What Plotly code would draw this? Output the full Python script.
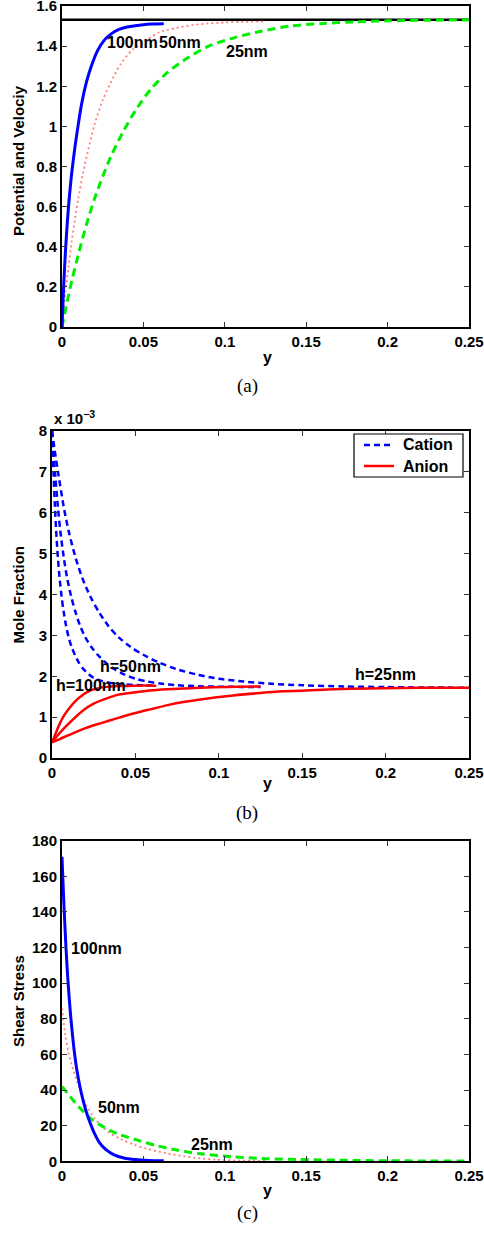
import plotly.graph_objects as go

W, H = 484, 1234

# ---------------- Panel (a): Potential and Velocity ----------------
a_x_100 = [0, 0.001, 0.002, 0.003, 0.004, 0.005, 0.006, 0.008, 0.010, 0.012, 0.015,
           0.018, 0.022, 0.026, 0.030, 0.035, 0.040, 0.045, 0.050, 0.055, 0.0625]
a_v_100 = [0, 0.20, 0.36, 0.49, 0.60, 0.69, 0.77, 0.90, 1.01, 1.11, 1.22,
           1.30, 1.38, 1.43, 1.46, 1.483, 1.495, 1.502, 1.507, 1.510, 1.512]
a_x_50 = [0, 0.002, 0.004, 0.006, 0.008, 0.010, 0.013, 0.016, 0.020, 0.025, 0.030,
          0.036, 0.043, 0.050, 0.060, 0.070, 0.080, 0.090, 0.100, 0.110, 0.125]
a_v_50 = [0, 0.17, 0.30, 0.43, 0.54, 0.64, 0.77, 0.88, 1.01, 1.13, 1.22,
          1.31, 1.38, 1.42, 1.47, 1.49, 1.505, 1.513, 1.518, 1.521, 1.523]
a_x_25 = [0, 0.003, 0.006, 0.010, 0.015, 0.020, 0.025, 0.030, 0.038, 0.046, 0.055,
          0.065, 0.075, 0.090, 0.105, 0.120, 0.140, 0.160, 0.180, 0.200, 0.225, 0.250]
a_v_25 = [0, 0.12, 0.23, 0.36, 0.51, 0.64, 0.75, 0.85, 0.98, 1.09, 1.19,
          1.27, 1.33, 1.40, 1.44, 1.47, 1.50, 1.513, 1.521, 1.526, 1.529, 1.531]
a_ref_x = [0, 0.25]
a_ref_v = [1.532, 1.532]
a_labels = ["100nm", "50nm", "25nm"]
a_label_x = [0.0436, 0.0725, 0.1136]
a_label_y = [1.416, 1.416, 1.371]
a_yticks = [0, 0.2, 0.4, 0.6, 0.8, 1, 1.2, 1.4, 1.6]
a_yticktext = ["0", "0.2", "0.4", "0.6", "0.8", "1", "1.2", "1.4", "1.6"]

# ---------------- Panel (b): Mole fraction (x 10^-3) ----------------
b_cat_x_100 = [0, 0.0005, 0.001, 0.00175, 0.0025, 0.0035, 0.0045, 0.00575, 0.007, 0.0085,
               0.010, 0.01175, 0.01375, 0.016, 0.01875, 0.02175, 0.025, 0.02875, 0.0325,
               0.0375, 0.04375, 0.050, 0.05625, 0.0625]
b_cat_v_100 = [8.00, 7.42, 6.90, 6.15, 5.55, 4.92, 4.42, 3.95, 3.58, 3.22,
               2.95, 2.72, 2.52, 2.34, 2.18, 2.06, 1.96, 1.90, 1.86,
               1.82, 1.80, 1.785, 1.775, 1.77]
b_cat_x_50 = [0, 0.001, 0.002, 0.0035, 0.005, 0.007, 0.009, 0.0115, 0.014, 0.017,
              0.020, 0.0235, 0.0275, 0.032, 0.0375, 0.0435, 0.050, 0.0575, 0.065,
              0.075, 0.0875, 0.100, 0.1125, 0.125]
b_cat_v_50 = [8.00, 7.42, 6.90, 6.15, 5.55, 4.92, 4.42, 3.95, 3.58, 3.22,
              2.95, 2.72, 2.52, 2.34, 2.17, 2.04, 1.94, 1.87, 1.82,
              1.78, 1.755, 1.745, 1.74, 1.74]
b_cat_x_25 = [0, 0.002, 0.004, 0.007, 0.010, 0.014, 0.018, 0.023, 0.028, 0.034,
              0.040, 0.047, 0.055, 0.064, 0.075, 0.087, 0.100, 0.115, 0.130,
              0.150, 0.175, 0.200, 0.225, 0.250]
b_cat_v_25 = [8.00, 7.42, 6.90, 6.15, 5.55, 4.92, 4.42, 3.95, 3.58, 3.22,
              2.95, 2.72, 2.52, 2.34, 2.17, 2.04, 1.94, 1.87, 1.82,
              1.78, 1.75, 1.735, 1.725, 1.72]
b_an_x_100 = [0, 0.002, 0.004, 0.0068, 0.010, 0.0148, 0.019, 0.0228, 0.028, 0.0328,
              0.040, 0.050, 0.0625]
b_an_v_100 = [0.38, 0.58, 0.78, 1.01, 1.20, 1.42, 1.56, 1.65, 1.71, 1.74,
              1.76, 1.77, 1.77]
b_an_x_50 = [0, 0.004, 0.008, 0.0188, 0.025, 0.0328, 0.040, 0.0488, 0.0588, 0.0688,
             0.0887, 0.105, 0.125]
b_an_v_50 = [0.38, 0.58, 0.76, 1.17, 1.33, 1.46, 1.55, 1.60, 1.65, 1.68,
             1.72, 1.74, 1.75]
b_an_x_25 = [0, 0.005, 0.010, 0.020, 0.030, 0.0388, 0.050, 0.0588, 0.070, 0.0787,
             0.090, 0.1087, 0.125, 0.1387, 0.155, 0.1687, 0.190, 0.2086, 0.230, 0.250]
b_an_v_25 = [0.38, 0.47, 0.56, 0.73, 0.86, 0.97, 1.10, 1.19, 1.30, 1.37,
             1.44, 1.53, 1.59, 1.63, 1.66, 1.68, 1.70, 1.71, 1.72, 1.72]
b_labels = ["h=100nm", "h=50nm", "h=25nm"]
b_label_x = [0.0234, 0.0468, 0.2002]
b_label_y = [1.77, 2.23, 2.05]
b_yticks = [0, 1, 2, 3, 4, 5, 6, 7, 8]
b_legend_names = ["Cation", "Anion"]

# ---------------- Panel (c): Shear stress ----------------
c_x_100 = [0, 0.001, 0.002, 0.003, 0.004, 0.005, 0.006, 0.0075, 0.009, 0.011, 0.013,
           0.015, 0.0175, 0.020, 0.023, 0.027, 0.032, 0.038, 0.045, 0.053, 0.0625]
c_v_100 = [171, 148, 128, 111, 97, 85, 75, 62, 52, 42, 34,
           27.5, 21, 15.5, 10.5, 6.5, 3.6, 1.9, 1.0, 0.5, 0.3]
c_x_50 = [0, 0.002, 0.004, 0.006, 0.009, 0.012, 0.0152, 0.020, 0.0254, 0.030, 0.036,
          0.0438, 0.052, 0.0643, 0.075, 0.085, 0.095, 0.110, 0.125]
c_v_50 = [86, 71, 61, 54, 45.5, 38, 31, 24, 19, 15.5, 12.5,
          9.5, 7, 4.5, 2.8, 1.6, 0.9, 0.4, 0.2]
c_x_25 = [0, 0.004, 0.008, 0.013, 0.019, 0.0254, 0.0295, 0.036, 0.0479, 0.058,
          0.0705, 0.085, 0.105, 0.125, 0.146, 0.170, 0.200, 0.225, 0.250]
c_v_25 = [42, 37.5, 33, 28, 23, 19.4, 17.3, 14.8, 11.5, 8.8,
          6.3, 4.2, 2.5, 1.5, 1.0, 0.6, 0.3, 0.2, 0.1]
c_labels = ["100nm", "50nm", "25nm"]
c_label_x = [0.0211, 0.035, 0.092]
c_label_y = [119.6, 30.2, 9.6]
c_yticks = [0, 20, 40, 60, 80, 100, 120, 140, 160, 180]

x_ticks = [0, 0.05, 0.1, 0.15, 0.2, 0.25]
x_ticktext = ["0", "0.05", "0.1", "0.15", "0.2", "0.25"]

BLUE, RED, GREEN = "#0000ff", "#ff0000", "#00ee00"
PINK = "rgba(255,70,70,0.7)"
SANS = "Liberation Sans"
CAT_DASH = "6px,4px"

fig = go.Figure()

def line(xs, ys, xa, ya, **kw):
    fig.add_trace(go.Scatter(x=xs, y=ys, mode="lines", xaxis=xa, yaxis=ya, showlegend=False, **kw))

# panel a
line(a_ref_x, a_ref_v, "x", "y", line=dict(color="black", width=2.5))
line(a_x_50, a_v_50, "x", "y", line=dict(color=PINK, width=1.8, dash="2px,3px", shape="spline", smoothing=0.8))
line(a_x_25, a_v_25, "x", "y", line=dict(color=GREEN, width=3, dash="8px,5px", shape="spline", smoothing=0.8))
line(a_x_100, a_v_100, "x", "y", line=dict(color=BLUE, width=3, shape="spline", smoothing=0.8))

# panel b
for xs, vs in [(b_cat_x_100, b_cat_v_100), (b_cat_x_50, b_cat_v_50), (b_cat_x_25, b_cat_v_25)]:
    line(xs, vs, "x2", "y2", name=b_legend_names[0],
         line=dict(color=BLUE, width=2.5, dash=CAT_DASH, shape="spline", smoothing=0.8))
for xs, vs in [(b_an_x_100, b_an_v_100), (b_an_x_50, b_an_v_50), (b_an_x_25, b_an_v_25)]:
    line(xs, vs, "x2", "y2", name=b_legend_names[1],
         line=dict(color=RED, width=2.5, shape="spline", smoothing=0.8))

# panel c
line(c_x_50, c_v_50, "x3", "y3", line=dict(color=PINK, width=1.8, dash="2px,3px", shape="spline", smoothing=0.8))
line(c_x_25, c_v_25, "x3", "y3", line=dict(color=GREEN, width=3, dash="8px,5px", shape="spline", smoothing=0.8))
line(c_x_100, c_v_100, "x3", "y3", line=dict(color=BLUE, width=3, shape="spline", smoothing=0.8))

tickfont = dict(family=SANS, size=15, color="black", weight="bold")
common = dict(showline=True, linecolor="black", linewidth=2, mirror="ticks", ticks="inside",
              ticklen=5, tickcolor="#333", tickwidth=1, showgrid=False, zeroline=False,
              tickfont=tickfont, automargin=False, ticklabeloverflow="allow")

def px_x(p):
    return p / W

def px_y(p):
    return 1 - p / H

layout = dict(
    width=W, height=H, margin=dict(l=0, r=0, t=0, b=0, autoexpand=False),
    paper_bgcolor="white", plot_bgcolor="white", showlegend=False,
    xaxis=dict(domain=[px_x(62), px_x(469)], anchor="y", range=[0, 0.25],
               tickvals=x_ticks, ticktext=x_ticktext, **common),
    yaxis=dict(domain=[px_y(327), px_y(6)], anchor="x", range=[0, 1.6],
               tickvals=a_yticks, ticktext=a_yticktext, **common),
    xaxis2=dict(domain=[px_x(52), px_x(469)], anchor="y2", range=[0, 0.25],
                tickvals=x_ticks, ticktext=x_ticktext, **common),
    yaxis2=dict(domain=[px_y(758), px_y(431)], anchor="x2", range=[0, 8],
                tickvals=b_yticks, **common),
    xaxis3=dict(domain=[px_x(62), px_x(469)], anchor="y3", range=[0, 0.25],
                tickvals=x_ticks, ticktext=x_ticktext, **common),
    yaxis3=dict(domain=[px_y(1161.3), px_y(840.7)], anchor="x3", range=[0, 180],
                tickvals=c_yticks, **common),
)
fig.update_layout(**layout)

# manual legend box for panel (b)
shapes = [
    dict(type="rect", xref="paper", yref="paper", x0=px_x(354), x1=px_x(463), y0=px_y(477), y1=px_y(434),
         line=dict(color="black", width=1.2), fillcolor="white", layer="above"),
    dict(type="line", xref="paper", yref="paper", x0=px_x(364), x1=px_x(394), y0=px_y(445), y1=px_y(445),
         line=dict(color=BLUE, width=2.5, dash=CAT_DASH), layer="above"),
    dict(type="line", xref="paper", yref="paper", x0=px_x(364), x1=px_x(394), y0=px_y(466), y1=px_y(466),
         line=dict(color=RED, width=2.5), layer="above"),
]
fig.update_layout(shapes=shapes)

bold = dict(family=SANS, size=16, color="black", weight="bold")
title_font = dict(family=SANS, size=15, color="black", weight="bold")
serif = dict(family="Liberation Serif", size=19, color="black")
ann = []
for t, x, y in zip(a_labels, a_label_x, a_label_y):
    ann.append(dict(text=t, x=x, y=y, xref="x", yref="y", showarrow=False, font=bold))
for t, x, y in zip(b_labels, b_label_x, b_label_y):
    ann.append(dict(text=t, x=x, y=y, xref="x2", yref="y2", showarrow=False, font=bold))
for t, x, y in zip(c_labels, c_label_x, c_label_y):
    ann.append(dict(text=t, x=x, y=y, xref="x3", yref="y3", showarrow=False, font=bold))
for t, yc in zip(b_legend_names, [445, 466]):
    ann.append(dict(text=t, x=px_x(401), y=px_y(yc), xref="paper", yref="paper",
                    xanchor="left", yanchor="middle", showarrow=False, font=bold))

# axis titles
for title, yc in [("Potential and Velociy", 161), ("Mole Fraction", 594.5), ("Shear Stress", 1001)]:
    ann.append(dict(text=title, x=px_x(18), y=px_y(yc), xref="paper", yref="paper",
                    xanchor="center", yanchor="middle",
                    textangle=-90, showarrow=False, font=title_font))
for yc in [357, 783, 1190]:
    ann.append(dict(text="y", x=px_x(267), y=px_y(yc), xref="paper", yref="paper",
                    xanchor="center", yanchor="middle",
                    showarrow=False, font=bold))
for t, yc in [("(a)", 386), ("(b)", 813), ("(c)", 1213)]:
    ann.append(dict(text=t, x=px_x(247), y=px_y(yc), xref="paper", yref="paper",
                    xanchor="center", yanchor="middle",
                    showarrow=False, font=serif))
ann.append(dict(text="x 10<sup>\u22123</sup>", x=px_x(52), y=px_y(429), xref="paper", yref="paper",
                xanchor="left", yanchor="bottom", showarrow=False, font=title_font))
fig.update_layout(annotations=ann)

fig.write_html("out.html")
